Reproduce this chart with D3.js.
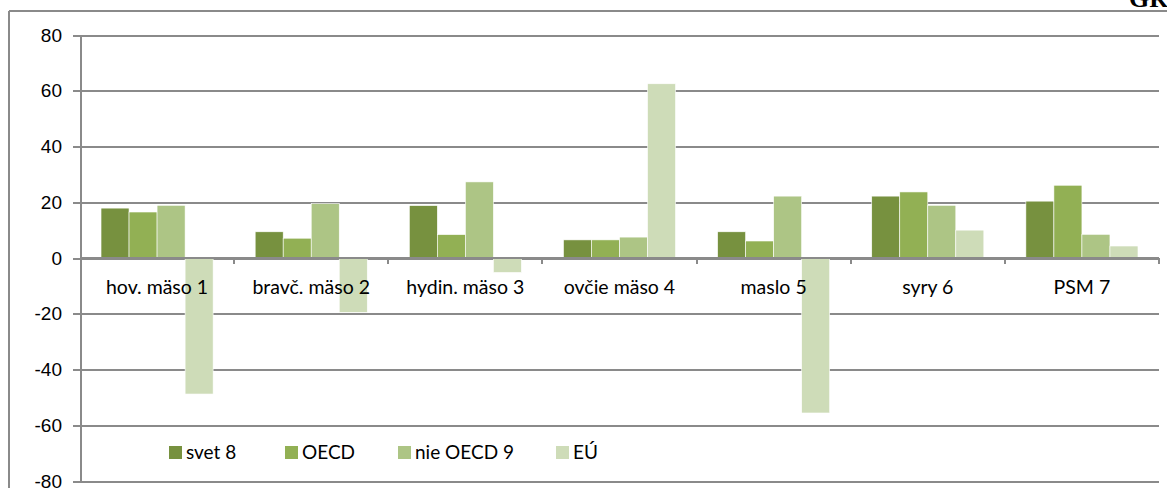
<!DOCTYPE html>
<html>
  <head>
    <meta charset="utf-8">
    <title>Graf</title>
    <script src="https://cdn.jsdelivr.net/npm/d3@7"></script>
    <style media="screen">
      body {
        margin: 0;
        background: #fff;
      }
      svg {
        display: block;
        font-family: Lato, "Open Sans", sans-serif;
      }
      .grid line {
        stroke: #8a8a8a;
        stroke-width: 2;
        shape-rendering: crispEdges;
      }
      .grid path {
        stroke-width: 0;
      }
      .axis path, .axis line {
        stroke: #8a8a8a;
        stroke-width: 2;
        shape-rendering: crispEdges;
      }
      .axis text {
        fill: #000;
      }
    </style>
  </head>
  <body>
    <script type="text/javascript">

    // data
    const categories = ["hov. mäso 1", "bravč. mäso 2", "hydin. mäso 3", "ovčie mäso 4", "maslo 5", "syry 6", "PSM 7"];
    const seriesNames = ["svet 8", "OECD", "nie OECD 9", "EÚ"];
    const svet = [17.9, 9.4, 18.8, 6.5, 9.4, 22.2, 20.4];
    const oecd = [16.5, 7.1, 8.4, 6.5, 6.1, 23.7, 26.1];
    const nieOecd = [18.9, 19.5, 27.3, 7.5, 22.2, 18.9, 8.5];
    const eu = [-48.8, -19.5, -5.2, 62.5, -55.6, 10.0, 4.3];
    const yTicks = [-80, -60, -40, -20, 0, 20, 40, 60, 80];
    const colors = ["#77913f", "#92b054", "#adc585", "#cedcb8"];

    const seriesValues = [svet, oecd, nieOecd, eu];

    let width = 1167, height = 488;
    let plot = {left: 80, right: 1159, top: 35, bottom: 481};

    var svg = d3.select('body').append('svg')
      .attr('width', width)
      .attr('height', height);

    // outer frame of the chart (top and left edges visible)
    svg.append('line')
      .attr('x1', 9).attr('x2', width)
      .attr('y1', 11).attr('y2', 11)
      .attr('stroke', '#8a8a8a').attr('stroke-width', 2);
    svg.append('line')
      .attr('x1', 9).attr('x2', 9)
      .attr('y1', 11).attr('y2', height)
      .attr('stroke', '#8a8a8a').attr('stroke-width', 2);

    // cut off title in the corner
    svg.append('text')
      .attr('x', 1129)
      .attr('y', 7)
      .style('font-family', '"Liberation Serif", serif')
      .style('font-weight', 'bold')
      .style('font-size', '26px')
      .text('GRAF');

    var x0 = d3.scaleBand()
      .domain(categories)
      .range([plot.left, plot.right])
      .padding(0);

    var gap = x0.step() * 0.75 / 5.5;
    var x1 = d3.scaleBand()
      .domain(d3.range(seriesNames.length))
      .range([gap, x0.step() - gap])
      .padding(0);

    var y = d3.scaleLinear()
      .domain([-80, 80])
      .range([plot.bottom, plot.top]);

    // horizontal gridlines
    svg.append('g')
      .attr('class', 'grid')
      .attr('transform', 'translate(' + plot.left + ',0)')
      .call(d3.axisLeft(y)
        .tickValues(yTicks)
        .tickSize(-(plot.right - plot.left))
        .tickFormat('')
      );

    // y axis (plain hyphen for negatives, like the original)
    svg.append('g')
      .attr('class', 'axis')
      .attr('transform', 'translate(' + plot.left + ',0)')
      .call(d3.axisLeft(y).tickValues(yTicks).tickSize(7).tickPadding(11).tickFormat(d => String(d)))
      .selectAll('text')
      .style('font-size', '19px');

    // bars
    let rows = categories.map((c, i) => ({cat: c, vals: seriesValues.map(s => s[i])}));

    let groups = svg.selectAll('.group')
      .data(rows).enter()
      .append('g')
      .attr('class', 'group')
      .attr('transform', d => 'translate(' + x0(d.cat) + ',0)');

    groups.selectAll('rect')
      .data(d => d.vals.map((v, k) => ({k: k, v: v})))
      .enter()
      .append('rect')
      .attr('x', d => x1(d.k))
      .attr('width', x1.bandwidth())
      .attr('y', d => y(Math.max(0, d.v)))
      .attr('height', d => Math.abs(y(d.v) - y(0)))
      .attr('fill', d => colors[d.k])
      .attr('stroke', '#fff')
      .attr('stroke-width', 0.6);

    // category axis at zero
    let xAxis = svg.append('g')
      .attr('class', 'axis')
      .attr('transform', 'translate(0,' + y(0) + ')');

    xAxis.append('line')
      .attr('x1', plot.left).attr('x2', plot.right);

    xAxis.selectAll('.tick')
      .data(d3.range(1, categories.length + 1))
      .enter()
      .append('line')
      .attr('x1', d => plot.left + d * x0.step())
      .attr('x2', d => plot.left + d * x0.step())
      .attr('y1', 0).attr('y2', 6);

    xAxis.selectAll('.cat-label')
      .data(categories).enter()
      .append('text')
      .attr('class', 'cat-label')
      .attr('x', d => x0(d) + x0.bandwidth() / 2)
      .attr('y', 36)
      .style('text-anchor', 'middle')
      .style('font-size', '19.5px')
      .text(d => d);

    // legend
    let legendX = [169, 285, 398, 556];
    let legend = svg.selectAll('.legend')
      .data(seriesNames).enter()
      .append('g')
      .attr('class', 'legend')
      .attr('transform', (d, i) => 'translate(' + legendX[i] + ',446)');

    legend.append('rect')
      .attr('width', 13)
      .attr('height', 13)
      .attr('fill', (d, i) => colors[i]);

    legend.append('text')
      .attr('x', 17)
      .attr('y', 13)
      .style('font-size', '19px')
      .text(d => d);
    </script>
  </body>
</html>
